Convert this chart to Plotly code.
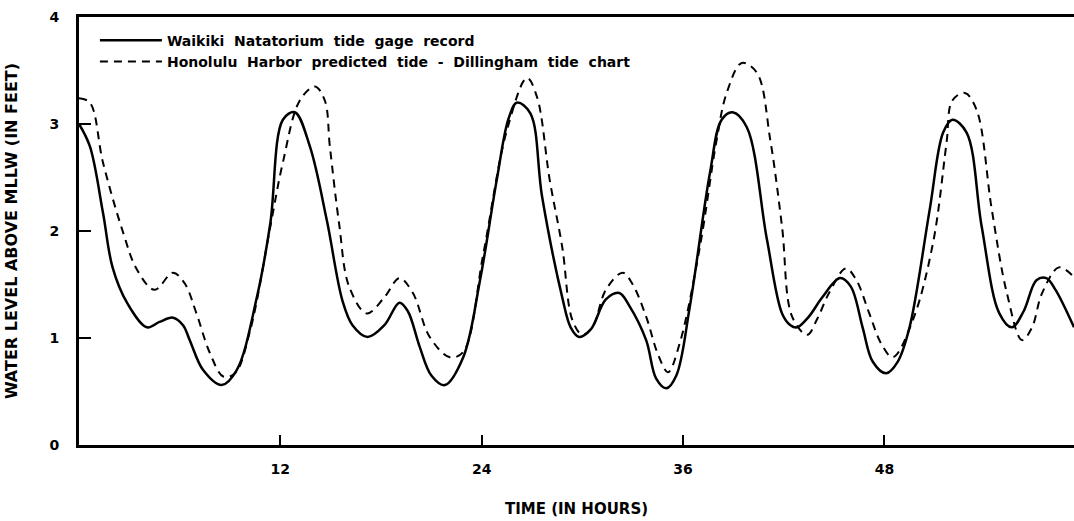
import plotly.graph_objects as go

# Waikiki Natatorium tide gage record (solid)
hours_gage = [0.0, 0.65, 1.43, 2.0, 2.86, 4.05, 4.8, 5.6, 6.2, 6.6, 7.4, 8.5, 9.4, 10.6, 11.4, 12.15, 12.86,
              13.76, 14.77, 15.7, 16.3, 17.2, 18.2, 19.1, 19.6, 20.3, 21.0, 21.8, 22.9, 23.9, 24.9, 25.6, 26.1,
              26.9, 27.6, 28.8, 29.3, 29.8, 30.5, 31.4, 32.2, 32.8, 33.8, 34.4, 35.0, 35.6, 36.4, 37.6, 38.3,
              38.95, 39.8, 41.0, 41.9, 42.4, 42.8, 43.5, 44.3, 45.35, 46.0, 46.7, 47.3, 48.1, 48.8, 49.5, 50.7,
              51.5, 52.05, 52.9, 53.8, 54.85, 55.6, 56.3, 57.06, 57.65, 58.2, 59.3]
level_gage = [3.0, 2.79, 2.17, 1.66, 1.33, 1.10, 1.15, 1.19, 1.12, 0.98, 0.70, 0.56, 0.70, 1.38, 2.07, 3.04, 3.11,
              2.79, 2.10, 1.35, 1.12, 1.01, 1.12, 1.33, 1.25, 0.92, 0.65, 0.56, 0.82, 1.54, 2.48, 3.05, 3.20,
              3.10, 2.32, 1.38, 1.10, 1.01, 1.08, 1.36, 1.42, 1.30, 0.98, 0.62, 0.53, 0.65, 1.29, 2.54, 3.04,
              3.11, 2.97, 1.92, 1.23, 1.12, 1.10, 1.20, 1.38, 1.56, 1.48, 1.10, 0.78, 0.67, 0.78, 1.10, 2.20,
              2.92, 3.04, 2.92, 2.04, 1.23, 1.10, 1.25, 1.54, 1.56, 1.45, 1.10]

# Honolulu Harbor predicted tide (dashed)
hours_pred = [0.0, 0.65, 1.43, 2.6, 3.45, 4.5, 5.6, 6.3, 7.0, 7.8, 8.6, 9.3, 10.2, 11.4, 12.15, 13.16, 14.06,
              14.65, 14.95, 15.5, 16.1, 17.15, 18.2, 19.1, 19.9, 20.9, 22.1, 22.9, 24.1, 25.5, 26.7, 27.3, 28.05,
              28.8, 29.4, 30.0, 30.6, 31.4, 32.4, 33.0, 33.8, 34.5, 35.1, 35.8, 37.0, 38.0, 38.6, 39.5, 40.4,
              41.2, 41.9, 42.5, 43.4, 44.0, 44.7, 45.7, 46.3, 47.1, 47.8, 48.5, 49.7, 50.9, 51.7, 52.05, 52.8,
              53.5, 54.4, 55.3, 56.2, 56.8, 57.4, 58.4, 59.3]
level_pred = [3.24, 3.20, 2.64, 2.0, 1.64, 1.45, 1.61, 1.51, 1.23, 0.86, 0.64, 0.67, 1.07, 2.04, 2.64, 3.22, 3.35,
              3.22, 2.79, 2.07, 1.48, 1.23, 1.38, 1.56, 1.42, 1.01, 0.82, 0.87, 1.79, 2.94, 3.43, 3.25, 2.48,
              1.85, 1.17, 1.03, 1.10, 1.45, 1.61, 1.50, 1.20, 0.85, 0.68, 0.95, 1.85, 2.85, 3.29, 3.57, 3.48,
              2.85, 2.04, 1.20, 1.03, 1.18, 1.42, 1.65, 1.55, 1.23, 0.95, 0.82, 1.17, 1.89, 2.82, 3.22, 3.29,
              3.13, 2.20, 1.42, 0.98, 1.10, 1.42, 1.66, 1.57]

x_ticks = [12, 24, 36, 48]
y_ticks = [0, 1, 2, 3, 4]

FONT = "DejaVu Sans"

fig = go.Figure()
fig.add_trace(go.Scatter(
    x=hours_gage, y=level_gage, mode="lines",
    name="Waikiki  Natatorium  tide  gage  record",
    line=dict(color="black", width=2.5, shape="spline", smoothing=1.0),
))
fig.add_trace(go.Scatter(
    x=hours_pred, y=level_pred, mode="lines",
    name="Honolulu  Harbor  predicted  tide  -  Dillingham  tide  chart",
    line=dict(color="black", width=2, dash="8px,6px", shape="spline", smoothing=1.0),
))

fig.update_layout(
    width=1074, height=521,
    margin=dict(l=79, r=0, t=17, b=76),
    paper_bgcolor="white", plot_bgcolor="white",
    font=dict(family=FONT, color="black", size=13, weight="bold"),
    showlegend=True,
    legend=dict(
        x=0.016, y=0.982, xanchor="left", yanchor="top",
        bgcolor="rgba(0,0,0,0)", borderwidth=0,
        itemwidth=62, tracegroupgap=0,
        font=dict(family=FONT, size=14, color="black", weight="bold"),
    ),
    xaxis=dict(
        range=[0, 59.3], tickvals=x_ticks, ticktext=[str(v) for v in x_ticks],
        showgrid=False, zeroline=False,
        showline=True, linecolor="black", linewidth=3, mirror=True,
        ticks="inside", ticklen=10, tickwidth=2, tickcolor="black",
        ticklabelstandoff=9,
        tickfont=dict(family=FONT, size=14, weight="bold"),
        title=dict(text="TIME (IN HOURS)", standoff=28,
                   font=dict(family=FONT, size=15, weight="bold")),
    ),
    yaxis=dict(
        range=[0, 4], tickvals=y_ticks, ticktext=[str(v) for v in y_ticks],
        showgrid=False, zeroline=False,
        showline=True, linecolor="black", linewidth=3, mirror=False,
        ticks="inside", ticklen=12, tickwidth=2, tickcolor="black",
        ticklabelstandoff=14,
        tickfont=dict(family=FONT, size=14, weight="bold"),
        title=dict(text="WATER LEVEL ABOVE MLLW (IN FEET)", standoff=28,
                   font=dict(family=FONT, size=16, weight="bold")),
    ),
)

fig.write_html("out.html")
